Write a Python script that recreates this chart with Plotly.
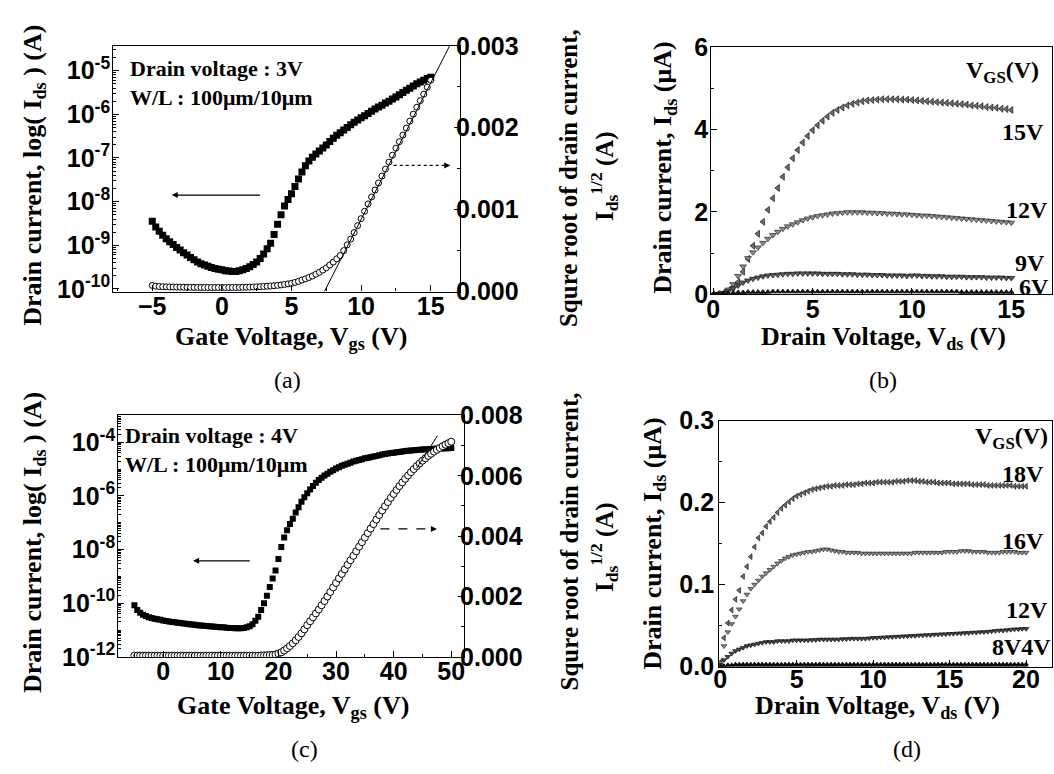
import numpy as np
import plotly.graph_objects as go

# ---------------- data ----------------
# (a) transfer curve, Vds = 3 V
vgs_a = np.arange(-5, 15.001, 0.25)
log_ids_a = [-8.45,-8.58,-8.68,-8.77,-8.85,-8.92,-8.98,-9.05,-9.11,-9.17,
             -9.22,-9.28,-9.33,-9.38,-9.42,-9.45,-9.48,-9.51,-9.53,-9.55,
             -9.56,-9.58,-9.59,-9.60,-9.60,-9.58,-9.56,-9.53,-9.49,-9.44,
             -9.38,-9.30,-9.20,-9.08,-8.95,-8.75,-8.52,-8.30,-8.10,-7.95,
             -7.82,-7.65,-7.48,-7.32,-7.18,-7.07,-6.98,-6.91,-6.84,-6.77,
             -6.70,-6.62,-6.55,-6.48,-6.42,-6.36,-6.30,-6.24,-6.18,-6.13,
             -6.08,-6.03,-5.98,-5.93,-5.88,-5.83,-5.79,-5.74,-5.70,-5.65,
             -5.60,-5.55,-5.50,-5.45,-5.40,-5.35,-5.30,-5.26,-5.22,-5.18,
             -5.15]
sqrt_ids_a_milli = [0.075,0.066,0.062,0.060,0.058,0.057,0.056,0.055,0.054,0.053,
                    0.052,0.052,0.051,0.051,0.050,0.050,0.050,0.050,0.050,0.050,
                    0.050,0.050,0.050,0.050,0.050,0.051,0.052,0.053,0.054,0.056,
                    0.058,0.060,0.062,0.065,0.068,0.072,0.076,0.081,0.087,0.094,
                    0.100,0.112,0.125,0.140,0.155,0.172,0.190,0.212,0.235,0.262,
                    0.290,0.325,0.360,0.400,0.440,0.500,0.570,0.640,0.720,0.805,
                    0.890,0.980,1.070,1.155,1.240,1.325,1.410,1.495,1.580,1.665,
                    1.750,1.830,1.910,1.995,2.080,2.165,2.250,2.330,2.410,2.495,
                    2.580]
fit_a_x = [7.36, 16.36]
fit_a_y = [0.0, 0.003]

# (b) output curves
vds_b = np.arange(0, 15.001, 0.25)
ids_b_15 = [0.00,0.01,0.03,0.09,0.18,0.30,0.55,0.86,1.18,1.47,
            1.76,2.05,2.33,2.58,2.85,3.08,3.30,3.50,3.68,3.84,
            3.98,4.10,4.21,4.31,4.40,4.47,4.53,4.58,4.62,4.65,
            4.68,4.70,4.71,4.72,4.73,4.73,4.73,4.73,4.72,4.72,
            4.71,4.70,4.69,4.68,4.67,4.66,4.65,4.64,4.63,4.62,
            4.61,4.60,4.58,4.57,4.56,4.54,4.53,4.52,4.50,4.49,
            4.47]
ids_b_12 = [0.00,0.01,0.04,0.12,0.25,0.45,0.68,0.88,1.02,1.14,
            1.25,1.35,1.44,1.52,1.59,1.65,1.70,1.75,1.80,1.84,
            1.87,1.90,1.92,1.94,1.96,1.97,1.98,1.99,1.99,1.99,
            1.99,1.98,1.98,1.97,1.97,1.96,1.96,1.95,1.94,1.94,
            1.93,1.92,1.91,1.91,1.90,1.89,1.88,1.87,1.86,1.85,
            1.84,1.83,1.82,1.81,1.80,1.79,1.78,1.77,1.76,1.75,
            1.74]
ids_b_9 = [0.00,0.01,0.03,0.08,0.15,0.22,0.29,0.34,0.38,0.41,
           0.44,0.46,0.47,0.48,0.49,0.50,0.50,0.51,0.51,0.51,
           0.51,0.51,0.50,0.50,0.50,0.50,0.49,0.49,0.49,0.48,
           0.48,0.48,0.47,0.47,0.47,0.46,0.46,0.46,0.46,0.45,
           0.46,0.46,0.45,0.45,0.44,0.44,0.44,0.43,0.43,0.43,
           0.43,0.42,0.42,0.42,0.42,0.41,0.41,0.41,0.41,0.40,
           0.40]
ids_b_6 = [0.00,0.01,0.02,0.03,0.04,0.05,0.05,0.06,0.06,0.06,
           0.06,0.06,0.07,0.07,0.07,0.07,0.07,0.07,0.07,0.07,
           0.07,0.07,0.07,0.07,0.07,0.07,0.07,0.07,0.07,0.07,
           0.07,0.07,0.07,0.07,0.07,0.07,0.07,0.07,0.07,0.07,
           0.07,0.07,0.07,0.07,0.07,0.07,0.07,0.07,0.07,0.07,
           0.06,0.06,0.06,0.06,0.06,0.06,0.06,0.06,0.06,0.06,
           0.06]

# (c) transfer curve, Vds = 4 V
vgs_c = np.arange(-5, 50.001, 0.5)
log_ids_c = [-10.08,-10.25,-10.36,-10.43,-10.48,-10.52,-10.55,-10.58,-10.60,-10.62,
             -10.64,-10.66,-10.68,-10.70,-10.71,-10.73,-10.74,-10.76,-10.77,-10.78,
             -10.79,-10.80,-10.82,-10.83,-10.84,-10.85,-10.86,-10.87,-10.88,-10.89,
             -10.90,-10.90,-10.91,-10.92,-10.92,-10.93,-10.93,-10.93,-10.92,-10.90,
             -10.86,-10.78,-10.65,-10.50,-10.25,-10.00,-9.72,-9.40,-9.08,-8.78,
             -8.35,-7.90,-7.55,-7.28,-7.05,-6.85,-6.62,-6.42,-6.22,-6.05,
             -5.90,-5.76,-5.63,-5.51,-5.41,-5.32,-5.24,-5.17,-5.10,-5.04,
             -4.98,-4.93,-4.88,-4.84,-4.80,-4.76,-4.72,-4.69,-4.66,-4.63,
             -4.60,-4.58,-4.56,-4.53,-4.51,-4.48,-4.46,-4.44,-4.42,-4.40,
             -4.39,-4.37,-4.36,-4.34,-4.33,-4.32,-4.31,-4.30,-4.29,-4.28,
             -4.27,-4.26,-4.26,-4.25,-4.24,-4.24,-4.23,-4.23,-4.22,-4.22,
             -4.21]
sqrt_ids_c_milli = [0.045,0.040,0.040,0.040,0.040,0.040,0.040,0.040,0.040,0.040,
                    0.040,0.040,0.040,0.040,0.040,0.040,0.040,0.040,0.040,0.040,
                    0.040,0.040,0.040,0.040,0.040,0.040,0.040,0.040,0.040,0.040,
                    0.040,0.040,0.040,0.040,0.040,0.040,0.040,0.040,0.040,0.040,
                    0.040,0.040,0.040,0.040,0.045,0.050,0.055,0.060,0.065,0.080,
                    0.11,0.15,0.21,0.28,0.36,0.45,0.55,0.66,0.78,0.91,
                    1.05,1.18,1.31,1.44,1.57,1.71,1.85,2.00,2.15,2.30,
                    2.45,2.60,2.75,2.90,3.05,3.20,3.35,3.50,3.65,3.80,
                    3.95,4.10,4.25,4.40,4.55,4.70,4.85,4.99,5.13,5.27,
                    5.40,5.53,5.66,5.78,5.90,6.01,6.12,6.22,6.32,6.41,
                    6.50,6.58,6.66,6.73,6.80,6.86,6.92,6.98,7.03,7.08,
                    7.13]
fit_c_x = [44.0, 47.6]
fit_c_y = [0.00625, 0.00733]

# (d) output curves
vds_d = np.arange(0, 20.001, 0.25)
ids_d_18 = [0.005,0.035,0.053,0.069,0.082,0.093,0.110,0.122,0.134,0.146,
            0.157,0.163,0.171,0.177,0.182,0.188,0.193,0.197,0.201,0.205,
            0.208,0.210,0.212,0.214,0.216,0.217,0.218,0.219,0.220,0.220,
            0.221,0.221,0.221,0.222,0.222,0.222,0.223,0.223,0.224,0.224,
            0.224,0.225,0.225,0.225,0.225,0.225,0.226,0.226,0.226,0.227,
            0.227,0.227,0.226,0.226,0.225,0.225,0.225,0.224,0.224,0.224,
            0.224,0.223,0.223,0.223,0.223,0.223,0.222,0.222,0.222,0.222,
            0.221,0.221,0.221,0.221,0.221,0.221,0.221,0.220,0.220,0.220,
            0.220]
ids_d_16 = [0.005,0.025,0.042,0.052,0.061,0.070,0.080,0.088,0.095,0.100,
            0.105,0.110,0.114,0.118,0.122,0.126,0.129,0.132,0.134,0.136,
            0.137,0.138,0.139,0.140,0.140,0.141,0.142,0.143,0.143,0.142,
            0.141,0.140,0.140,0.139,0.139,0.139,0.139,0.138,0.138,0.138,
            0.138,0.138,0.138,0.138,0.138,0.138,0.138,0.138,0.138,0.138,
            0.138,0.139,0.139,0.139,0.139,0.139,0.139,0.139,0.139,0.140,
            0.140,0.140,0.140,0.141,0.141,0.141,0.140,0.140,0.140,0.140,
            0.139,0.139,0.139,0.139,0.140,0.140,0.140,0.140,0.139,0.139,
            0.139]
ids_d_12 = [0.002,0.008,0.012,0.016,0.019,0.021,0.023,0.025,0.026,0.027,
            0.028,0.029,0.030,0.030,0.030,0.031,0.031,0.031,0.031,0.032,
            0.032,0.032,0.032,0.032,0.0325,0.0325,0.033,0.033,0.033,0.033,
            0.033,0.033,0.0335,0.0335,0.034,0.034,0.034,0.034,0.034,0.0345,
            0.035,0.035,0.0355,0.0355,0.036,0.036,0.0365,0.0365,0.037,0.037,
            0.0375,0.0375,0.038,0.038,0.0385,0.0385,0.039,0.039,0.0395,0.0395,
            0.040,0.040,0.0405,0.0405,0.041,0.041,0.0415,0.0415,0.042,0.042,
            0.0425,0.043,0.0435,0.044,0.044,0.0445,0.045,0.0455,0.0455,0.046,
            0.046]
ids_d_8 = [0.000,0.001,0.002,0.002,0.003,0.003,0.003,0.003,0.003,0.003,
           0.003,0.003,0.003,0.003,0.003,0.003,0.003,0.003,0.003,0.003,
           0.003,0.003,0.003,0.003,0.003,0.003,0.003,0.003,0.003,0.003,
           0.003,0.003,0.003,0.003,0.003,0.003,0.003,0.003,0.003,0.003,
           0.003,0.003,0.003,0.003,0.003,0.003,0.003,0.003,0.003,0.003,
           0.003,0.003,0.003,0.003,0.003,0.003,0.003,0.003,0.003,0.003,
           0.003,0.003,0.003,0.003,0.003,0.003,0.003,0.003,0.003,0.003,
           0.003,0.003,0.003,0.003,0.003,0.003,0.003,0.003,0.003,0.003,
           0.003]
ids_d_4 = [0.000,0.0005,0.001,0.001,0.001,0.001,0.001,0.001,0.001,0.001,
           0.001,0.001,0.001,0.001,0.001,0.001,0.001,0.001,0.001,0.001,
           0.001,0.001,0.001,0.001,0.001,0.001,0.001,0.001,0.001,0.001,
           0.001,0.001,0.001,0.001,0.001,0.001,0.001,0.001,0.001,0.001,
           0.001,0.001,0.001,0.001,0.001,0.001,0.001,0.001,0.001,0.001,
           0.001,0.001,0.001,0.001,0.001,0.001,0.001,0.001,0.001,0.001,
           0.001,0.001,0.001,0.001,0.001,0.001,0.001,0.001,0.001,0.001,
           0.001,0.001,0.001,0.001,0.001,0.001,0.001,0.001,0.001,0.001,
           0.001]

# ---------------- helpers ----------------
W, H = 1054, 774
def px(x): return x / W
def py(y): return 1 - y / H

SANS = "Liberation Sans, Arial, sans-serif"
SERIF = "Liberation Serif, Times New Roman, serif"
TICKFONT = dict(family=SANS, size=25, color="black", weight="bold")

fig = go.Figure()

# (a)
fig.add_trace(go.Scatter(x=vgs_a, y=10 ** np.array(log_ids_a), xaxis="x", yaxis="y",
                         mode="markers", marker=dict(symbol="square", size=7, color="black")))
fig.add_trace(go.Scatter(x=vgs_a, y=np.array(sqrt_ids_a_milli) * 1e-3, xaxis="x", yaxis="y2",
                         mode="markers", marker=dict(symbol="circle", size=6, color="white",
                                                     line=dict(color="black", width=1))))
fig.add_trace(go.Scatter(x=fit_a_x, y=fit_a_y, xaxis="x", yaxis="y2", mode="lines",
                         line=dict(color="black", width=1)))

# (b)
def tri(color, edge, sym="triangle-down", size=6):
    return dict(symbol=sym, size=size, color=color, line=dict(color=edge, width=0.7))
fig.add_trace(go.Scatter(x=vds_b, y=ids_b_15, xaxis="x2", yaxis="y3", mode="markers",
                         marker=tri("#6e6e6e", "#151515", "triangle-left")))
fig.add_trace(go.Scatter(x=vds_b, y=ids_b_12, xaxis="x2", yaxis="y3", mode="markers",
                         marker=tri("#8a8a8a", "#2a2a2a")))
fig.add_trace(go.Scatter(x=vds_b, y=ids_b_9, xaxis="x2", yaxis="y3", mode="markers",
                         marker=tri("#5a5a5a", "#111111")))
fig.add_trace(go.Scatter(x=vds_b, y=ids_b_6, xaxis="x2", yaxis="y3", mode="markers",
                         marker=tri("#111111", "#000000", "triangle-up", 5)))

# (c)
fig.add_trace(go.Scatter(x=vgs_c, y=10 ** np.array(log_ids_c), xaxis="x3", yaxis="y4",
                         mode="markers", marker=dict(symbol="square", size=6, color="black")))
fig.add_trace(go.Scatter(x=vgs_c, y=np.array(sqrt_ids_c_milli) * 1e-3, xaxis="x3", yaxis="y5",
                         mode="markers", marker=dict(symbol="circle", size=7, color="white",
                                                     line=dict(color="black", width=1))))
fig.add_trace(go.Scatter(x=fit_c_x, y=fit_c_y, xaxis="x3", yaxis="y5", mode="lines",
                         line=dict(color="black", width=1)))

# (d)
fig.add_trace(go.Scatter(x=vds_d, y=ids_d_18, xaxis="x4", yaxis="y6", mode="markers",
                         marker=tri("#6e6e6e", "#151515", "triangle-left", 5)))
fig.add_trace(go.Scatter(x=vds_d, y=ids_d_16, xaxis="x4", yaxis="y6", mode="markers",
                         marker=tri("#8a8a8a", "#2a2a2a", "triangle-down", 5)))
fig.add_trace(go.Scatter(x=vds_d, y=ids_d_12, xaxis="x4", yaxis="y6", mode="markers",
                         marker=tri("#444444", "#111111", "triangle-down", 5)))
fig.add_trace(go.Scatter(x=vds_d, y=ids_d_8, xaxis="x4", yaxis="y6", mode="markers",
                         marker=tri("#111111", "#000000", "triangle-up", 4)))
fig.add_trace(go.Scatter(x=vds_d, y=ids_d_4, xaxis="x4", yaxis="y6", mode="markers",
                         marker=tri("#111111", "#000000", "triangle-up", 4)))

# ---------------- axes ----------------
common = dict(showline=True, linecolor="black", linewidth=1.2, mirror=True,
              ticks="inside", ticklen=6, tickwidth=1, tickcolor="black",
              showgrid=False, zeroline=False, tickfont=TICKFONT)
XS = dict(ticklabelstandoff=-8)
YL = dict(ticklabelstandoff=-3)
YR = dict(ticklabelstandoff=-10)

def minor(dt, tick0=0):
    return dict(ticks="inside", ticklen=3, tickcolor="black", dtick=dt, tick0=tick0, showgrid=False)

exp_a = [-10, -9, -8, -7, -6, -5]
exp_c = [-12, -10, -8, -6, -4]

fig.update_layout(
    width=W, height=H, margin=dict(l=0, r=0, t=0, b=0), autosize=False,
    paper_bgcolor="white", plot_bgcolor="white", showlegend=False,
    xaxis=dict(common, **XS, domain=[px(108), px(457)], range=[-7.8, 17.1], anchor="y",
               tickmode="array", tickvals=[-5, 0, 5, 10, 15], minor=minor(2.5)),
    yaxis=dict(common, **YL, domain=[py(288), py(33)], type="log", range=[-10.06, -4.43], anchor="x",
               tickmode="array", tickvals=[10.0 ** e for e in exp_a],
               ticktext=["10<sup>%d</sup>" % e for e in exp_a],
               minor=dict(ticks="inside", ticklen=3, tickcolor="black", dtick="D1", showgrid=False)),
    yaxis2=dict(common, **YR, overlaying="y", side="right", anchor="x", range=[0, 0.003],
                tickmode="array", tickvals=[0, 0.001, 0.002, 0.003],
                ticktext=["0.000", "0.001", "0.002", "0.003"], minor=minor(0.0005)),
    xaxis2=dict(common, **XS, domain=[px(710), px(1053)], range=[-0.1, 17.05], anchor="y3",
                tickmode="array", tickvals=[0, 5, 10, 15], minor=minor(2.5)),
    yaxis3=dict(common, **YL, domain=[py(291), py(34)], range=[0, 6], anchor="x2",
                tickmode="array", tickvals=[0, 2, 4, 6], minor=minor(1)),
    xaxis3=dict(common, **XS, domain=[px(113), px(461)], range=[-7.8, 52.2], anchor="y4",
                tickmode="array", tickvals=[0, 10, 20, 30, 40, 50], minor=minor(5)),
    yaxis4=dict(common, **YL, domain=[py(667), py(416.5)], type="log", range=[-12, -3], anchor="x3",
                tickmode="array", tickvals=[10.0 ** e for e in exp_c],
                ticktext=["10<sup>%d</sup>" % e for e in exp_c],
                minor=dict(ticks="inside", ticklen=3, tickcolor="black", dtick="D1", showgrid=False)),
    yaxis5=dict(common, **YR, overlaying="y4", side="right", anchor="x3", range=[0, 0.008],
                tickmode="array", tickvals=[0, 0.002, 0.004, 0.006, 0.008],
                ticktext=["0.000", "0.002", "0.004", "0.006", "0.008"], minor=minor(0.001)),
    xaxis4=dict(common, ticklabelstandoff=-10, domain=[px(718), px(1053)], range=[-0.06, 21.7],
                anchor="y6", tickmode="array", tickvals=[0, 5, 10, 15, 20], minor=minor(2.5)),
    yaxis6=dict(common, ticklabelstandoff=-1, domain=[py(677), py(422)], range=[0, 0.3], anchor="x4",
                tickmode="array", tickvals=[0, 0.1, 0.2, 0.3],
                ticktext=["0.0", "0.1", "0.2", "0.3"], minor=minor(0.05)),
)

# ---------------- text ----------------
ann = []
def txt(x, y, text, size=26, angle=0, xanchor="center", family=SERIF, bold=True):
    t = "<b>%s</b>" % text if bold else text
    ann.append(dict(x=px(x), y=py(y), xref="paper", yref="paper", text=t, showarrow=False,
                    textangle=angle, xanchor=xanchor, yanchor="middle",
                    font=dict(family=family, size=size, color="black")))

# axis titles
txt(287, 336, "Gate Voltage, V<sub>gs</sub> (V)")
txt(28, 167, "Drain current, log( I<sub>ds</sub> ) (A)", angle=-90)
txt(567, 170, "Squre root of drain current,", size=25, angle=-90)
txt(602, 168, "I<sub>ds</sub><sup>1/2</sup> (A)", size=25, angle=-90)
txt(883, 336, "Drain Voltage, V<sub>ds</sub> (V)")
txt(663, 160, "Drain current, I<sub>ds</sub> (μA)", angle=-90)
txt(289, 719, "Gate Voltage, V<sub>gs</sub> (V)")
txt(28, 548, "Drain current, log( I<sub>ds</sub> ) (A)", angle=-90)
txt(567, 547, "Squre root of drain current,", size=25, angle=-90)
txt(602, 553, "I<sub>ds</sub><sup>1/2</sup> (A)", size=25, angle=-90)
txt(877, 719, "Drain Voltage, V<sub>ds</sub> (V)")
txt(652, 550, "Drain current, I<sub>ds</sub> (μA)", angle=-90)

# inset texts
txt(123, 57, "Drain voltage : 3V", size=22, xanchor="left")
txt(123, 87, "W/L : 100μm/10μm", size=22, xanchor="left")
txt(118, 437, "Drain voltage : 4V", size=22, xanchor="left")
txt(118, 467, "W/L : 100μm/10μm", size=22, xanchor="left")

# curve labels
txt(1003, 60, "V<sub>GS</sub>(V)", size=24)
txt(1024, 122, "15V", size=24)
txt(1028, 203, "12V", size=24)
txt(1031, 258, "9V", size=24)
txt(1035, 283, "6V", size=24)
txt(1012, 440, "V<sub>GS</sub>(V)", size=24)
txt(1024, 477, "18V", size=24)
txt(1024, 547, "16V", size=24)
txt(1028, 618, "12V", size=24)
txt(1022, 657, "8V4V", size=24)

# panel captions
txt(283, 380, "(a)", size=24, bold=False)
txt(883, 380, "(b)", size=24, bold=False)
txt(300, 763, "(c)", size=24, bold=False)
txt(907, 763, "(d)", size=24, bold=False)

# arrows
ann.append(dict(x=-3.6, y=-7.85, xref="x", yref="y", ax=2.85, ay=-7.85, axref="x", ayref="y",
                text="", showarrow=True, arrowhead=2, arrowsize=1, arrowwidth=1.2, arrowcolor="black"))
ann.append(dict(x=16.4, y=0.00154, xref="x", yref="y2", ax=-7, ay=0,
                text="", showarrow=True, arrowhead=2, arrowsize=1, arrowwidth=1.2, arrowcolor="black"))
ann.append(dict(x=5.2, y=-8.42, xref="x3", yref="y4", ax=15.3, ay=-8.42, axref="x3", ayref="y4",
                text="", showarrow=True, arrowhead=2, arrowsize=1, arrowwidth=1.2, arrowcolor="black"))
ann.append(dict(x=47.5, y=0.00424, xref="x3", yref="y5", ax=-7, ay=0,
                text="", showarrow=True, arrowhead=2, arrowsize=1, arrowwidth=1.2, arrowcolor="black"))
fig.update_layout(annotations=ann)

fig.add_shape(type="line", xref="x", yref="y2", x0=12.34, x1=16.0, y0=0.00154, y1=0.00154,
              line=dict(color="black", width=1.2, dash="dot"))
fig.add_shape(type="line", xref="x3", yref="y5", x0=37.7, x1=46.4, y0=0.00424, y1=0.00424,
              line=dict(color="black", width=1.2, dash="dash"))

fig.write_html("out.html", config={"displayModeBar": False},
               post_script="document.body.style.margin='0px';document.body.style.overflow='hidden';")
